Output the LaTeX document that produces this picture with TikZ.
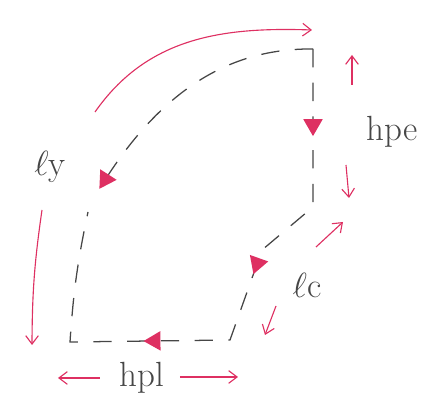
\documentclass[tikz,border=0pt]{standalone}
\usepackage{tikz}
\usetikzlibrary{arrows.meta,positioning,shapes.geometric}
\definecolor{pen}{RGB}{222,48,98}
\definecolor{lead}{RGB}{70,70,70}

\begin{document}
\begin{tikzpicture}[every node/.style={font=\Huge, text=lead}]
  \useasboundingbox (0,0) rectangle (10.725,10.125);
  \tikzset{
    loopline/.style={lead, line width=0.9pt, dash pattern=on 13pt off 11pt},
    tri/.style={isosceles triangle, isosceles triangle apex angle=60, fill=pen,
                inner sep=0pt, minimum size=12pt, sloped, allow upside down},
    penarrow/.style={pen, line width=0.8pt, -{Straight Barb[length=6pt,width=9pt]}}
  }
  % corners of the dashed loop
  \coordinate (tr) at (7.825,8.9);
  \coordinate (rb) at (7.825,4.95);
  \coordinate (lcm) at (6.55,3.875);
  \coordinate (br) at (5.75,1.625);
  \coordinate (bl) at (1.75,1.575);
  \coordinate (lt) at (2.2,4.825);
  \coordinate (ct) at (2.5,5.425);

  \draw[loopline] (tr) -- node[tri,pos=0.48]{} (rb) -- (lcm)
    -- node[tri,pos=0.15]{} (br) -- node[tri,pos=0.47]{} (bl) to[bend left=4] (lt);
  \draw[loopline] (tr) .. controls (5.75,8.925) and (4.0,7.875) .. node[tri,pos=0.97]{} (ct);

  % labels
  \node (ly)  at (1.25,5.95)  {$\ell$y};
  \node (lc)  at (7.675,3.0)  {$\ell$c};
  \node (hpe) at (9.8,6.825)  {hpe};
  \node (hpl) at (3.55,0.675) {hpl};

  % red arrows
  \coordinate (arcS) at (2.375,7.325);
  \coordinate (arcE) at (7.8,9.375);
  \draw[penarrow] (arcS) to[out=55,in=178] (arcE);

  \coordinate (lyS) at (1.05,4.875);
  \coordinate (lyE) at (0.8,1.5);
  \draw[penarrow] (lyS) to[bend right=4] (lyE);

  \coordinate (hpeUs) at (8.8,8.0);
  \coordinate (hpeU)  at (8.8,8.75);
  \coordinate (hpeDs) at (8.65,6.0);
  \coordinate (hpeD)  at (8.725,5.175);
  \draw[penarrow] (hpeUs) -- (hpeU);
  \draw[penarrow] (hpeDs) -- (hpeD);

  \coordinate (lcUs) at (7.9,3.95);
  \coordinate (lcU)  at (8.575,4.575);
  \coordinate (lcDs) at (6.9,2.475);
  \coordinate (lcD)  at (6.625,1.75);
  \draw[penarrow] (lcUs) -- (lcU);
  \draw[penarrow] (lcDs) -- (lcD);

  \coordinate (hplLs) at (2.5,0.675);
  \coordinate (hplL)  at (1.45,0.675);
  \coordinate (hplRs) at (4.5,0.7);
  \coordinate (hplR)  at (5.95,0.7);
  \draw[penarrow] (hplLs) -- (hplL);
  \draw[penarrow] (hplRs) -- (hplR);
\end{tikzpicture}
\end{document}
